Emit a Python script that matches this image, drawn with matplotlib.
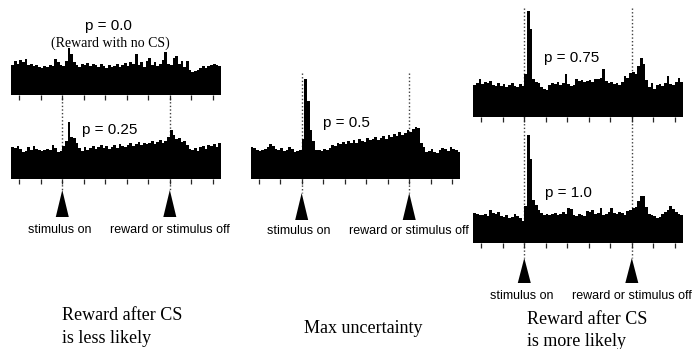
import numpy as np
import matplotlib
matplotlib.use('Agg')
import matplotlib.pyplot as plt
from matplotlib.patches import Polygon

# firing rate histograms (arbitrary rate units), 50 ms bins from -0.95 s to 2.95 s
t_start, t_stop, bin_w = -0.95, 2.95, 0.05
stim_on, reward_t = 0.0, 2.0
tick_times = [-0.8, -0.4, 0.0, 0.4, 0.8, 1.2, 1.6, 2.0, 2.4, 2.8]

p00 = [30, 34, 31, 35, 33, 36, 30, 31, 29, 30, 28, 27, 29, 28, 30, 29, 36, 33, 30,
       29, 34, 47, 41, 33, 30,
       28, 31, 30, 32, 29, 31, 30, 28, 31, 29, 27, 30, 28, 29, 31, 28, 30, 32, 29, 33, 31,
       41, 30, 33, 28, 34, 37, 30, 33, 29, 31, 35, 43, 31, 30, 37, 39, 31, 34, 28, 34,
       25, 23, 24, 25, 27, 29, 27, 29, 30, 31, 30, 29]

p25 = [32, 31, 33, 30, 27, 28, 32, 29, 33, 30, 29, 28, 29, 30, 29, 34, 31, 27, 28,
       33, 38, 57, 42, 41, 36, 31,
       28, 32, 29, 31, 33, 30, 32, 34, 31, 33, 30, 32, 34, 31, 35, 33, 32, 34, 36, 33,
       35, 37, 34, 36, 35,
       36, 38, 35, 37, 39, 36, 38, 42,
       49, 44, 40, 41, 37, 38, 34, 30, 29, 31, 28, 32, 33, 30, 34, 33, 35, 32, 36]

p50 = [32, 31, 29, 28, 29, 30, 32, 35, 33, 30, 29, 31, 28, 29, 32, 30, 27, 28, 29,
       40, 100, 78, 49, 38, 29,
       29, 28, 30, 29,
       31, 34, 33, 36, 35,
       37, 35, 38, 36, 39,
       36, 40, 38, 37, 41, 39, 40, 42, 39,
       41, 43, 40, 44, 42, 45, 43, 47, 44,
       46, 49, 47, 50, 52, 51, 36, 32, 27,
       28, 30, 27, 26, 29, 31, 30, 28, 32, 30, 29, 27]

p75 = [32, 34, 38, 33, 35, 34, 36, 32, 31, 34, 31, 33, 30, 32, 34, 31, 30, 33, 31,
       43, 106, 88,
       38, 35, 34, 30, 28, 27, 32, 34, 33, 35,
       32, 34, 43, 33, 31, 32, 38, 36, 37, 35,
       36, 37, 35, 38, 38, 39, 48, 36, 34, 35,
       33, 34, 32, 35, 41, 39, 44, 45, 43, 51,
       59, 53, 37, 30, 34, 28, 32, 33, 31, 34,
       41, 33, 32, 35, 39, 35]

p100 = [30, 29, 28, 28, 29, 27, 33, 30, 29, 31, 27, 26, 28, 25, 26, 29, 27, 25, 22,
        37, 108, 84, 43, 38, 33, 30, 28, 29, 28,
        29, 30, 28, 29, 31, 29,
        35, 34,
        28, 27, 29, 28, 27,
        32, 31, 33,
        29, 30, 35, 28, 29,
        31, 35,
        30, 29, 31, 30, 28, 32,
        33, 35, 36,
        42, 47, 47, 36,
        29, 28, 27,
        25, 26,
        29, 31, 33,
        37, 34, 31, 29, 28]

W, H = 694, 349
AX_H = 110          # axes height in px, rate units map 1:1
PANEL_W = 209.7

fig = plt.figure(figsize=(W / 100, H / 100), dpi=100)

# overlay in pixel coordinates for dotted lines, arrows and labels
ov = fig.add_axes([0, 0, 1, 1])
ov.set_xlim(0, W)
ov.set_ylim(H, 0)
ov.axis('off')
ov.set_zorder(0)

edges = np.arange(len(p00) + 1) * bin_w + t_start


def psth(left, baseline, rates):
    ax = fig.add_axes([left / W, 1 - baseline / H, PANEL_W / W, AX_H / H])
    ax.set_zorder(1)
    ax.patch.set_visible(False)
    ax.stairs(rates, edges, fill=True, color='black', lw=0)
    ax.set_xlim(t_start, t_stop)
    ax.set_ylim(0, AX_H)
    ax.set_xticks(tick_times)
    ax.set_yticks([])
    ax.tick_params(axis='x', direction='out', length=3.6, width=0.9,
                   color='0.15', labelbottom=False)
    for s in ax.spines.values():
        s.set_visible(False)
    return ax


def xpx(ax, t):
    return ax.transData.transform((t, 0))[0]


def events(ax, y_top, tip, base, label_y):
    for t, lab, dx in [(stim_on, 'stimulus on', -3), (reward_t, 'reward or stimulus off', 0)]:
        x = xpx(ax, t)
        ov.plot([x, x], [y_top, tip], ls=(0, (1, 1.6)), lw=1.0, color='0.25')
        ov.add_patch(Polygon([(x - 6.5, base), (x + 6.5, base), (x, tip)],
                             closed=True, color='black', lw=0))
        ov.text(x + dx, label_y, lab, ha='center', va='center', fontsize=9,
                family='Liberation Sans')


axA1 = psth(11.2, 95, p00)
axA2 = psth(11.2, 179, p25)
axB = psth(250.6, 179, p50)
axC1 = psth(473.2, 117, p75)
axC2 = psth(473.2, 243, p100)

events(axA2, 98, 190, 217, 230)
events(axB, 73, 193, 220, 231)
events(axC2, 8, 258, 283, 296)

sans = dict(ha='center', va='center', fontsize=11, family='Liberation Sans')
ov.text(108, 26, 'p = 0.0', **sans)
ov.text(110, 43, '(Reward with no CS)', ha='center', va='center', fontsize=10,
        family='Liberation Serif')
ov.text(110, 130, 'p = 0.25', **sans)
ov.text(346, 123, 'p = 0.5', **sans)
ov.text(572, 58, 'p = 0.75', **sans)
ov.text(568, 193, 'p = 1.0', **sans)

serif = dict(ha='left', va='baseline', fontsize=13, family='Liberation Serif')
ov.text(62, 320, 'Reward after CS', **serif)
ov.text(62, 343, 'is less likely', **serif)
ov.text(304, 333, 'Max uncertainty', **serif)
ov.text(527, 324, 'Reward after CS', **serif)
ov.text(527, 346, 'is more likely', **serif)

fig.savefig('out.png', dpi=100)
